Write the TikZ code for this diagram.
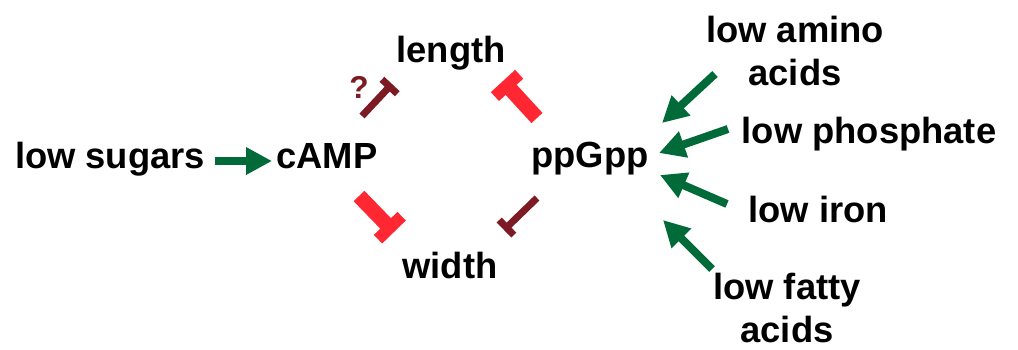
\documentclass[tikz,border=0pt]{standalone}
\usepackage{fontspec}
\setmainfont{Liberation Sans}
\usetikzlibrary{arrows.meta,calc}
\definecolor{upgreen}{RGB}{0,106,56}
\definecolor{inhred}{RGB}{255,40,50}
\definecolor{inhdark}{RGB}{125,27,36}

\begin{document}
\begin{tikzpicture}[x=0.02cm,y=-0.02cm,
                    term/.style={inner sep=0pt,anchor=base,font=\bfseries\fontsize{20.7}{24.5}\selectfont},
                    multi/.style={term,align=center,anchor=north},
                    up/.style={upgreen,line width=0.16cm,-{Triangle[length=0.52cm,width=0.52cm]}},
                    block/.style={inhred,line width=0.3cm,-{Rectangle[length=0.24cm,width=0.66cm]}},
                    weak/.style={inhdark,line width=0.14cm,-{Rectangle[length=0.14cm,width=0.42cm]}}]
\useasboundingbox (0,0) rectangle (1018,349);
% signals and regulators
\node[term] (sugars) at (110,168) {low sugars};
\node[term] (camp)   at (327,168) {cAMP};
\node[term] (length) at (451,62)  {length};
\node[term] (width)  at (450,278) {width};
\node[term] (ppgpp)  at (590,167) {ppGpp};
\node[multi] (amino) at (795,16)  {low amino\\acids};
\node[term] (phos)   at (869,143) {low phosphate};
\node[term] (iron)   at (818,222) {low iron};
\node[multi] (fatty) at (787,273) {low fatty\\acids};
\node[inner sep=0pt,text=inhdark,font=\bfseries\fontsize{18}{21}\selectfont] (query) at (359,87) {?};
%
\coordinate (s1) at (215,161);  \coordinate (s2) at (272,161);
\coordinate (a1) at (715,74);   \coordinate (a2) at (662,123);
\coordinate (p1) at (728,129);  \coordinate (p2) at (659,153);
\coordinate (r1) at (727,204);  \coordinate (r2) at (660,175);
\coordinate (f1) at (712,269);  \coordinate (f2) at (663,220);
\coordinate (b1) at (537,118);  \coordinate (b2) at (503,81);
\coordinate (b3) at (359,196);  \coordinate (b4) at (394,232);
\coordinate (w1) at (362,116);  \coordinate (w2) at (392,84);
\coordinate (w3) at (537,198);  \coordinate (w4) at (504,230);
% activation
\draw[up] (s1) -- (s2);
\draw[up] (a1) -- (a2);
\draw[up] (p1) -- (p2);
\draw[up] (r1) -- (r2);
\draw[up] (f1) -- (f2);
% inhibition
\draw[block] (b1) -- (b2);
\draw[block] (b3) -- (b4);
\draw[weak] (w1) -- (w2);
\draw[weak] (w3) -- (w4);
\end{tikzpicture}
\end{document}
